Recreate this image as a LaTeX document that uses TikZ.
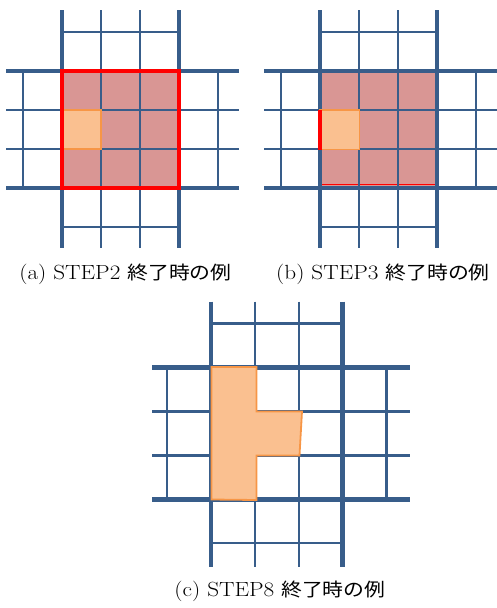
\documentclass[tikz,border=0pt]{standalone}
\usepackage{fontspec}
\newfontfamily\cjk{Noto Sans CJK JP}[Scale=0.9]
\definecolor{gridblue}{HTML}{385D8A}
\definecolor{pinkfill}{HTML}{D99694}
\definecolor{orangefill}{HTML}{FAC090}
\definecolor{orangeline}{HTML}{F79646}
\tikzset{
  thinline/.style={draw=gridblue, line width=2.6pt},
  thickline/.style={draw=gridblue, line width=4.6pt},
  pinkarea/.style={fill=pinkfill},
  orangecell/.style={fill=orangefill, draw=orangeline, line width=1.8pt, line join=miter},
  redframe/.style={draw=red, line width=4.6pt},
  caption/.style={font=\fontsize{20.5}{24}\selectfont, anchor=base, inner sep=0pt, xscale=1.13}
}
% #1 X0, #2 Y0, #3 cell, #4 top ext, #5 bottom ext, #6 left ext, #7 right ext
\newcommand\gridpanel[7]{%
  \begin{scope}[shift={(#1,#2)}]
    \pgfmathsetmacro\gpS{#3}
    \pgfmathsetmacro\gpT{3*#3}
    \draw[thinline] (\gpS,-#4) -- (\gpS,\gpT+#5);
    \draw[thinline] (2*\gpS,-#4) -- (2*\gpS,\gpT+#5);
    \draw[thinline] (-#6,\gpS) -- (\gpT+#7,\gpS);
    \draw[thinline] (-#6,2*\gpS) -- (\gpT+#7,2*\gpS);
    \draw[thinline] (0,-\gpS) -- (\gpT,-\gpS);
    \draw[thinline] (0,\gpT+\gpS) -- (\gpT,\gpT+\gpS);
    \draw[thinline] (-\gpS,0) -- (-\gpS,\gpT);
    \draw[thinline] (\gpT+\gpS,0) -- (\gpT+\gpS,\gpT);
    \draw[thickline] (0,-#4) -- (0,\gpT+#5);
    \draw[thickline] (\gpT,-#4) -- (\gpT,\gpT+#5);
    \draw[thickline] (-#6,0) -- (\gpT+#7,0);
    \draw[thickline] (-#6,\gpT) -- (\gpT+#7,\gpT);
  \end{scope}}
\begin{document}
\begin{tikzpicture}[x=1pt,y=-1pt]
\useasboundingbox (0,0) rectangle (496,608);
% ---------- panel (a)
\fill[pinkarea] (62,71) rectangle (179,188);
\gridpanel{62}{71}{39}{61}{60}{56}{60}
\filldraw[orangecell] (62,110) rectangle (101,149);
\draw[redframe] (62,71) rectangle (179,188);
\node[caption] (capa) at (125.5,279) {(a) STEP2 {\cjk 終了時の例}};
% ---------- panel (b)
\fill[pinkarea] (320,71) rectangle (437,188);
\draw[red, line width=0.7pt] (322,184.4) -- (435,184.4);
\gridpanel{320}{71}{39}{61}{60}{56}{60}
\filldraw[orangecell] (320,110) rectangle (359.5,149.5);
\draw[red, line width=4pt] (320,110) -- (320,149.5);
\node[caption] (capb) at (383,279) {(b) STEP3 {\cjk 終了時の例}};
% ---------- panel (c)
\gridpanel{211}{367.5}{43.9}{66}{68}{59}{67.6}
\filldraw[orangecell] (211.5,367) -- (256.5,367) -- (256.5,411.5) -- (302,411.5)
  -- (299.5,455.5) -- (256.5,455.5) -- (256.5,500) -- (211.5,499.5) -- cycle;
\node[caption] (capc) at (280,596) {(c) STEP8 {\cjk 終了時の例}};
\end{tikzpicture}
\end{document}
